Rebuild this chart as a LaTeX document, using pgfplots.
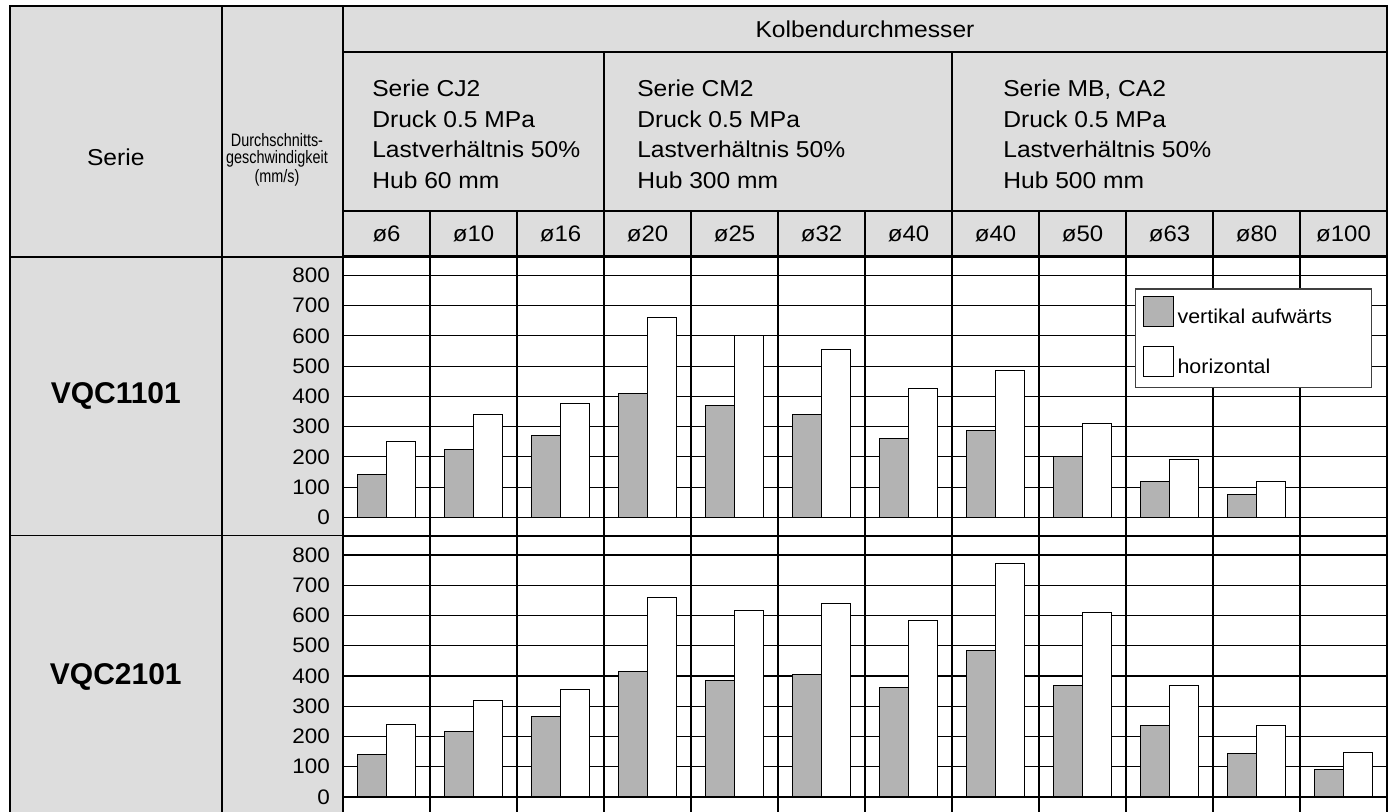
\documentclass[border=0pt]{standalone}
\usepackage{pgfplots}
\pgfplotsset{compat=1.18}
\usepackage{pgfplotstable}
\usepackage{graphicx}
\usepackage{fontspec}
\setmainfont{Liberation Sans}
\newcommand\W[1]{\scalebox{1.07}[1]{#1}}
\newcommand\C[1]{\scalebox{0.8}[1]{#1}}
\definecolor{hdr}{HTML}{DDDDDD}
\definecolor{bargray}{HTML}{B3B3B3}

\pgfplotstableread{
x v1 h1 v2 h2
0 140 250 140 240
1 225 340 215 320
2 270 375 265 355
3 410 660 415 658
4 370 600 385 615
5 340 555 405 640
6 260 425 363 585
7 288 485 485 773
8 200 310 367 610
9 120 190 237 370
10 75 120 145 237
11 nan nan 92 148
}\data

\pgfplotsset{panel/.style={
  scale only axis, x=43.5pt, y=0.15125pt, xmin=-0.5, xmax=11.5,
  ybar=0pt, bar width=14.5pt,
  xtick={0.5,1.5,...,10.5}, xticklabels={}, xmajorgrids,
  ytick={0,100,...,800}, ymajorgrids,
  major tick length=0pt, minor tick length=0pt,
  grid style={black, line width=0.55pt},
  axis line style={black, line width=0.6pt},
  /pgf/number format/assume math mode=true,
  yticklabel={\W{\pgfmathprintnumber{\tick}}},
  yticklabel style={font=\fontsize{10.5}{11}\selectfont, anchor=east, xshift=-3pt},
  legend image code/.code={\draw[##1, line width=0.5pt] (0pt,-4.3pt) rectangle (15pt,10.7pt);},
}}

\begin{document}
\begin{tikzpicture}
\begin{scope}[x=0.5pt,y=-0.5pt,yshift=406pt]
  \fill[hdr] (9.5,6) rectangle (1387,257);
  \fill[hdr] (9.5,257) rectangle (343,815);
\end{scope}

\begin{axis}[panel, at={(171.5pt,138.12pt)}, anchor=south west, ymin=-61, ymax=864,
  legend style={at={(axis cs:8.603,757)}, anchor=north west, draw=black!75, line width=0.6pt,
    font=\fontsize{10}{11}\selectfont, row sep=7.5pt, inner xsep=3.5pt, inner ysep=3.5pt},
  legend cell align=left]
\addplot[fill=bargray, draw=black, line width=0.5pt] table[x=x,y=v1]{\data};
\addplot[fill=white, draw=black, line width=0.5pt] table[x=x,y=h1]{\data};
\addlegendentry{\W{vertikal aufwärts}\hspace*{14pt}}
\addlegendentry{\W{horizontal}}
\end{axis}

\begin{axis}[panel, at={(171.5pt,-1.575pt)}, anchor=south west, ymin=-60, ymax=862.8]
\addplot[fill=bargray, draw=black, line width=0.5pt] table[x=x,y=v2]{\data};
\addplot[fill=white, draw=black, line width=0.5pt] table[x=x,y=h2]{\data};
\end{axis}

\begin{scope}[x=0.5pt,y=-0.5pt,yshift=406pt, line width=0.6pt]
  \draw[line width=1pt] (9.5,815) -- (9.5,6) -- (1387,6) -- (1387,815);
  \draw (222,6) -- (222,815);
  \draw (343,6) -- (343,815);
  \draw (343,52) -- (1387,52);
  \draw (343,211) -- (1387,211);
  \draw (9.5,257) -- (1387,257);
  \draw (9.5,535.8) -- (1387,535.8);
  \draw (604,52) -- (604,211);
  \draw (952,52) -- (952,211);
  \foreach \k in {1,...,11} \draw ({343+87*\k},211) -- ({343+87*\k},257);

  \begin{scope}[every node/.style={inner sep=0pt, font=\fontsize{11.5}{13}\selectfont}]
  \node at (865,29) {\W{Kolbendurchmesser}};
  \node at (115.8,157) {\W{Serie}};
  \foreach \lab [count=\i from 0] in {ø6,ø10,ø16,ø20,ø25,ø32,ø40,ø40,ø50,ø63,ø80,ø100}
    \node[font=\fontsize{11.2}{13}\selectfont] at ({386.5+87*\i},234) {\W{\lab}};

  \node[anchor=base west] at (371.7,96.7) {\W{Serie CJ2}};
  \node[anchor=base west] at (371.7,127.2) {\W{Druck 0.5 MPa}};
  \node[anchor=base west] at (371.7,157.7) {\W{Lastverhältnis 50\%}};
  \node[anchor=base west] at (371.7,188.2) {\W{Hub 60 mm}};

  \node[anchor=base west] at (636.7,96.7) {\W{Serie CM2}};
  \node[anchor=base west] at (636.7,127.2) {\W{Druck 0.5 MPa}};
  \node[anchor=base west] at (636.7,157.7) {\W{Lastverhältnis 50\%}};
  \node[anchor=base west] at (636.7,188.2) {\W{Hub 300 mm}};

  \node[anchor=base west] at (1002.7,96.7) {\W{Serie MB, CA2}};
  \node[anchor=base west] at (1002.7,127.2) {\W{Druck 0.5 MPa}};
  \node[anchor=base west] at (1002.7,157.7) {\W{Lastverhältnis 50\%}};
  \node[anchor=base west] at (1002.7,188.2) {\W{Hub 500 mm}};
  \end{scope}

  \begin{scope}[every node/.style={inner sep=0pt, font=\fontsize{9}{10}\selectfont}]
  \node at (277,140) {\C{Durchschnitts-}};
  \node at (277,159) {\C{geschwindigkeit}};
  \node at (277,178) {\C{(mm/s)}};
  \end{scope}

  \node[inner sep=0pt, font=\bfseries\fontsize{15}{16}\selectfont] at (115.8,396) {VQC1101};
  \node[inner sep=0pt, font=\bfseries\fontsize{15}{16}\selectfont] at (115.8,677) {VQC2101};
\end{scope}
\pgfresetboundingbox
\path[use as bounding box] (0,0) rectangle (695pt,406pt);
\end{tikzpicture}
\end{document}
